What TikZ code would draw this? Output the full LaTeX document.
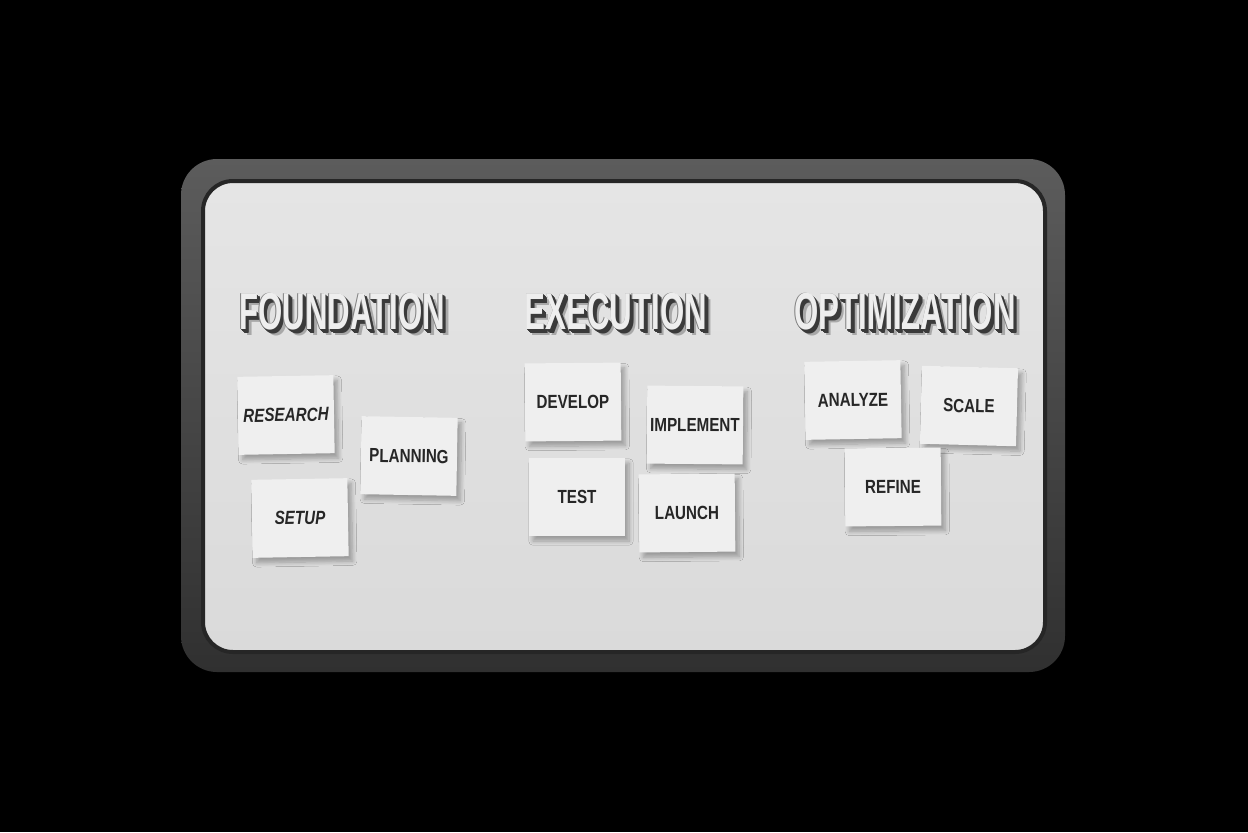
\documentclass[tikz,border=0pt]{standalone}
\usepackage{fontspec}
\setmainfont{Liberation Sans}
\newfontfamily\headfont{Liberation Sans}[FakeStretch=0.6]
\newfontfamily\notefont{Liberation Sans}[FakeStretch=0.8]
\usetikzlibrary{shadows.blur}
\definecolor{frametop}{HTML}{5C5C5C}
\definecolor{framebot}{HTML}{303030}
\definecolor{framerim}{HTML}{262626}
\definecolor{boardtop}{HTML}{E5E5E5}
\definecolor{boardbot}{HTML}{DADADA}
\definecolor{notepaper}{HTML}{EFEFEF}
\definecolor{notetext}{HTML}{262626}
\definecolor{headface}{HTML}{EEEEEE}
\definecolor{headside}{HTML}{3A3A3A}
\tikzset{
  frame/.style={rounded corners=18pt,top color=frametop,bottom color=framebot},
  board/.style={rounded corners=15pt,top color=boardtop,bottom color=boardbot,draw=framerim,line width=2pt},
  headtext/.style={font=\headfont\bfseries\fontsize{26}{28}\selectfont,inner sep=0pt},
  sticky/.style={fill=notepaper,minimum width=48pt,minimum height=39pt,inner sep=0pt,
    font=\notefont\bfseries\fontsize{9.5}{10}\selectfont,text=notetext,
    blur shadow={shadow xshift=2pt,shadow yshift=-2.5pt,shadow blur steps=8,shadow opacity=30}},
}
\newcommand\boardhead[4]{%
  \node[headtext,text=black,opacity=.25] at (#2+6,#3+6) {#4};
  \foreach \k in {1,...,6}{\node[headtext,text=headside,xshift=\k*0.3pt,yshift=-\k*0.3pt] at (#2,#3) {#4};}
  \node[headtext,text=gray,xshift=-0.3pt,yshift=0.3pt] at (#2,#3) {#4};
  \node(#1)[headtext,text=headface] at (#2,#3) {#4};}
\newcommand\sticky[5]{\node(#1)[sticky,rotate=#4] at (#2,#3) {#5};}

\begin{document}
\begin{tikzpicture}[x=0.5pt,y=-0.5pt]
    \fill[black] (0,0) rectangle (1248,832);
    \useasboundingbox (0,0) rectangle (1248,832);
    % whiteboard
    \path[frame] (181,159) rectangle (1065,672);
    \path[board] (203,181) rectangle (1045,652);
    % column headings
    \boardhead{foundation}{342}{312}{FOUNDATION}
    \boardhead{execution}{616}{312}{EXECUTION}
    \boardhead{optimization}{905}{312}{OPTIMIZATION}
    % sticky notes
    \sticky{research}{286}{415}{1}{\itshape RESEARCH}
    \sticky{planning}{409}{456}{-1}{PLANNING}
    \sticky{setup}{300}{518}{1}{\itshape SETUP}
    \sticky{develop}{573}{402}{0.5}{DEVELOP}
    \sticky{implement}{695}{425}{-0.5}{IMPLEMENT}
    \sticky{test}{577}{497}{0}{TEST}
    \sticky{launch}{687}{513}{0.5}{LAUNCH}
    \sticky{analyze}{853}{400}{1}{ANALYZE}
    \sticky{scale}{969}{406}{-1.5}{SCALE}
    \sticky{refine}{893}{487}{0.5}{REFINE}
\end{tikzpicture}
\end{document}
